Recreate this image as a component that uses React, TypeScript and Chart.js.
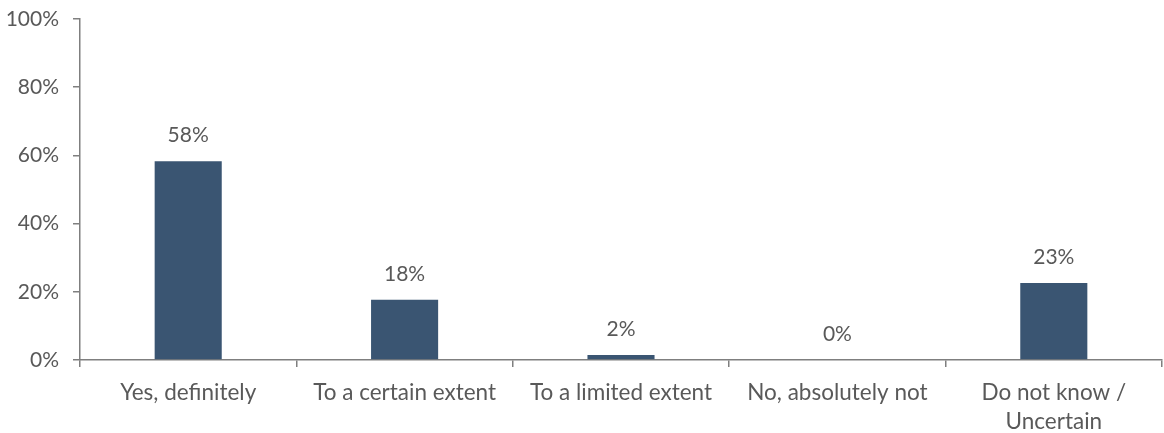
import React, { useEffect, useRef } from "react";
import { Chart, registerables } from "chart.js";

Chart.register(...registerables);

const categories: (string | string[])[] = [
  "Yes, definitely",
  "To a certain extent",
  "To a limited extent",
  "No, absolutely not",
  ["Do not know /", "Uncertain"],
];
const values: number[] = [58.3, 17.7, 1.5, 0, 22.6];
const yTicks: number[] = [0, 20, 40, 60, 80, 100];

const TEXT = "#595959";
const AXIS = "#7f7f7f";
const BAR = "#3a5572";
const FONT = "Lato, 'Open Sans', sans-serif";

const labelPlugin = {
  id: "barLabels",
  afterDatasetsDraw(chart: any) {
    const ctx = chart.ctx;
    const meta = chart.getDatasetMeta(0);
    ctx.save();
    ctx.fillStyle = TEXT;
    ctx.font = `21px ${FONT}`;
    ctx.textAlign = "center";
    ctx.textBaseline = "alphabetic";
    meta.data.forEach((el: any, i: number) => {
      const v = values[i];
      ctx.fillText(`${Math.round(v)}%`, el.x, el.y - 19);
    });
    ctx.restore();
  },
};

export default function App() {
  const ref = useRef<HTMLCanvasElement | null>(null);
  useEffect(() => {
    if (!ref.current) return;
    const chart = new Chart(ref.current, {
      type: "bar",
      data: {
        labels: categories,
        datasets: [
          {
            data: values,
            backgroundColor: BAR,
            barPercentage: 0.31,
            categoryPercentage: 1,
          },
        ],
      },
      options: {
        animation: false,
        responsive: true,
        maintainAspectRatio: false,
        layout: { padding: { top: 0, right: 2, left: 0, bottom: 0 } },
        plugins: { legend: { display: false }, tooltip: { enabled: false } },
        scales: {
          x: {
            grid: {
              display: true,
              drawOnChartArea: false,
              offset: true,
              tickLength: 7,
              color: AXIS,
              lineWidth: 1.5,
            },
            border: { display: true, color: AXIS, width: 1.5 },
            ticks: {
              color: TEXT,
              font: { family: FONT, size: 22.5, lineHeight: 1.29 },
              padding: 11,
              maxRotation: 0,
              autoSkip: false,
            },
            afterFit(scale: any) {
              scale.height = 73;
            },
          },
          y: {
            min: 0,
            max: 100,
            afterBuildTicks(scale: any) {
              scale.ticks = yTicks.map((v) => ({ value: v }));
            },
            grid: {
              display: true,
              drawOnChartArea: false,
              tickLength: 7,
              color: AXIS,
              lineWidth: 1.5,
            },
            border: { display: true, color: AXIS, width: 1.5 },
            ticks: {
              color: TEXT,
              font: { family: FONT, size: 21, lineHeight: 0.48 },
              padding: 14,
              callback: (v: any) => `${v}%`,
            },
            afterFit(scale: any) {
              scale.width = 80;
            },
          },
        },
      },
      plugins: [labelPlugin],
    });
    return () => chart.destroy();
  }, []);
  return (
    <div style={{ position: "fixed", left: 0, top: 0, width: 1164, height: 433, background: "#fff" }}>
      <canvas ref={ref} />
    </div>
  );
}
